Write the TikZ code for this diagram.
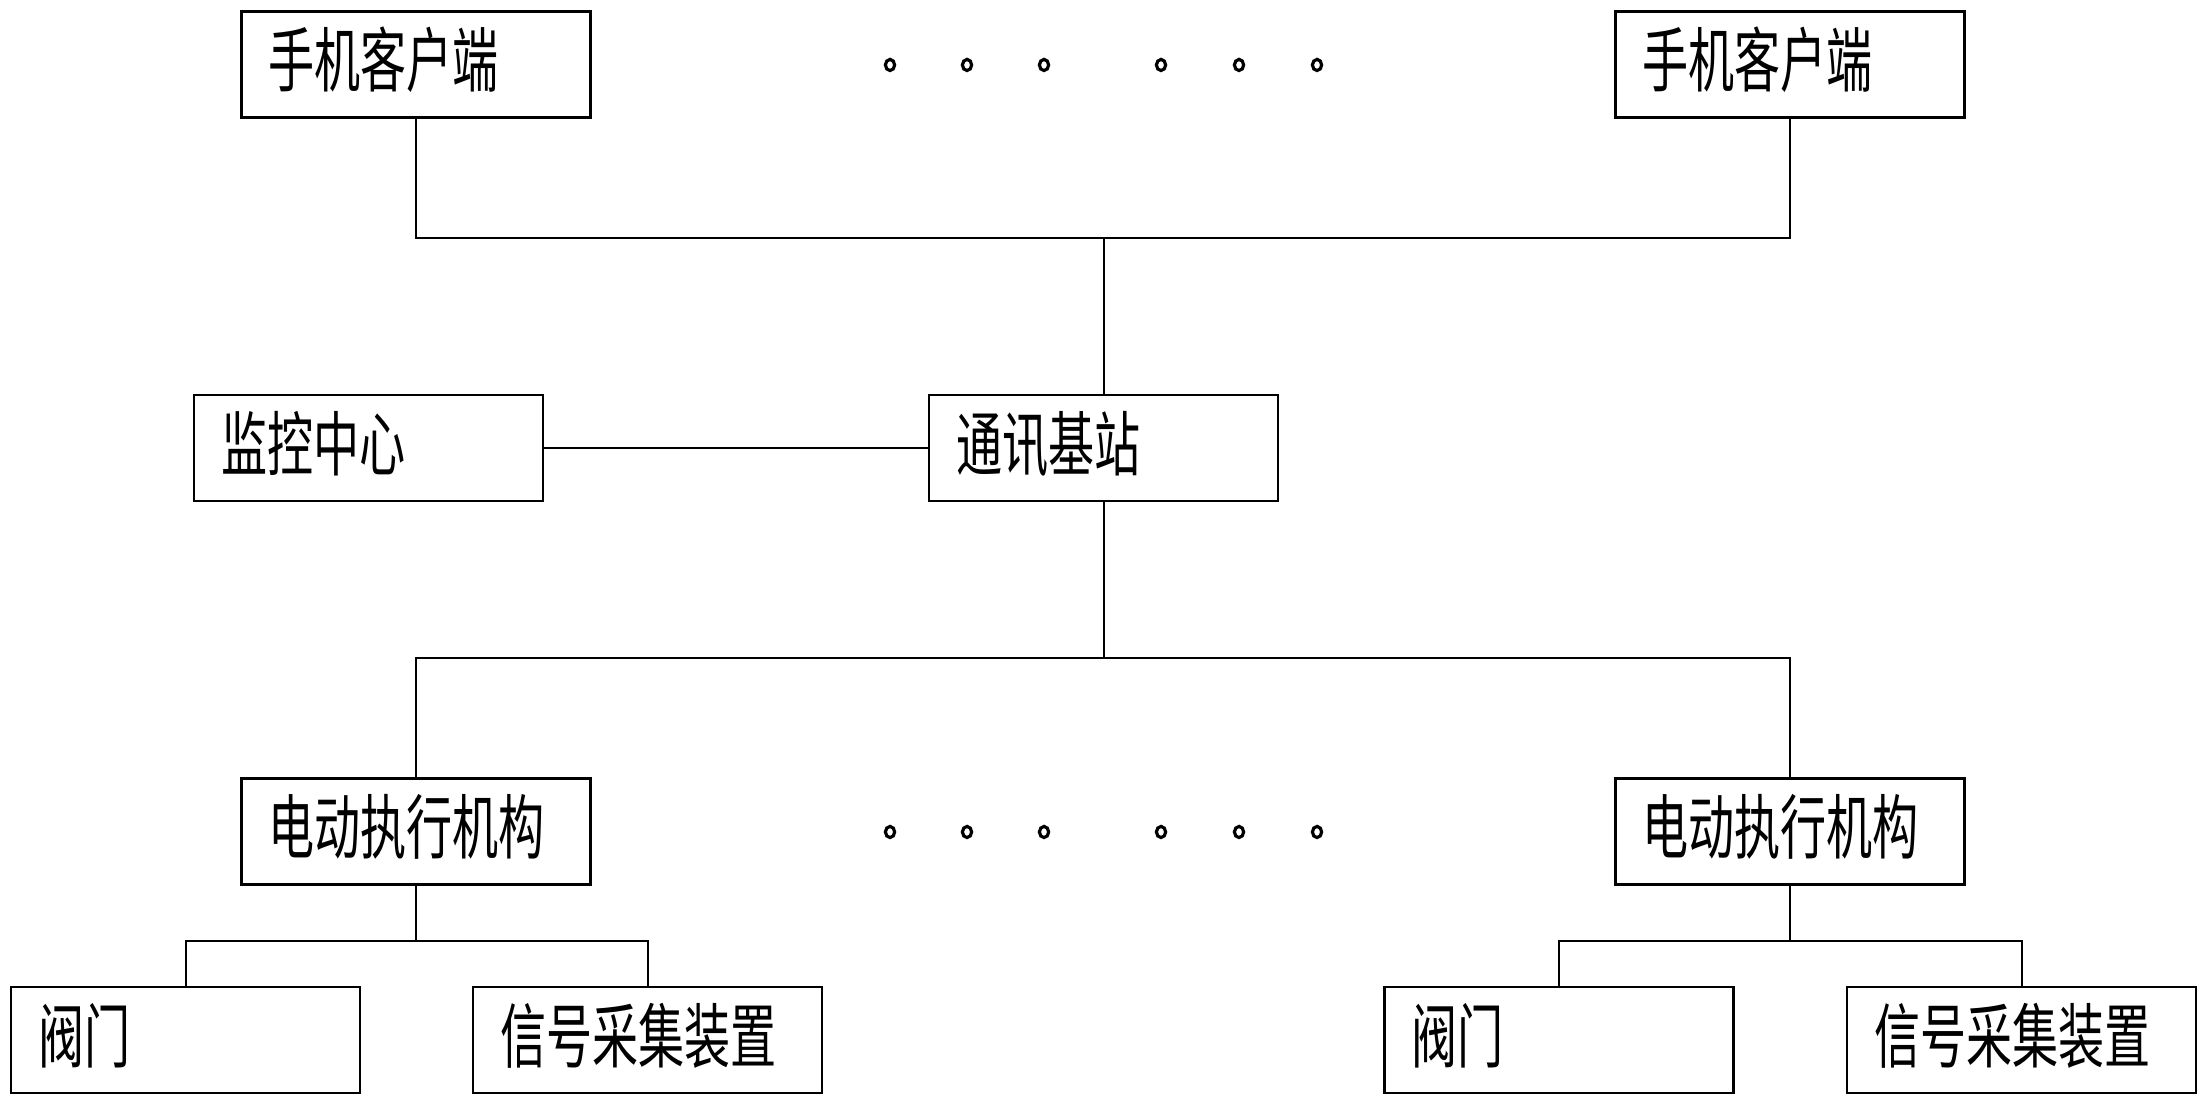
\documentclass[tikz,border=0pt]{standalone}
\usepackage{fontspec}
\usepackage{graphicx}
\newfontfamily\cjk{Noto Sans CJK SC}
\newcommand\lbl[1]{\scalebox{0.655}[1]{#1}}
\begin{document}
\begin{tikzpicture}[x=0.01cm,y=-0.01cm,
  box/.style={draw,line width=0.65pt,minimum width=3.49cm,minimum height=1.06cm,
    text width=2.95cm,align=left,inner sep=0pt,
    font=\cjk\fontsize{20}{24}\selectfont,text height=14pt,text depth=1.4pt},
  conn/.style={line width=0.55pt},
  thick conn/.style={line width=0.8pt},
  dotring/.style={line width=0.9pt}]
\useasboundingbox (0,0) rectangle (2211,1107);
\fill[white] (0,0) rectangle (2211,1107);
% boxes
\node[box] (a1) at (416,64.5) {\lbl{手机客户端}};
\node[box] (a2) at (1790,64.5) {\lbl{手机客户端}};
\node[box] (m) at (368.6,448) {\lbl{监控中心}};
\node[box] (t) at (1103.7,448) {\lbl{通讯基站}};
\node[box] (c1) at (416,831.4) {\lbl{电动执行机构}};
\node[box] (c2) at (1790,831.4) {\lbl{电动执行机构}};
\node[box] (v1) at (185.7,1040) {\lbl{阀门}};
\node[box] (s1) at (647.7,1040) {\lbl{信号采集装置}};
\node[box] (v2) at (1559,1040) {\lbl{阀门}};
\node[box] (s2) at (2021.7,1040) {\lbl{信号采集装置}};
% bus coordinates
\coordinate (topbus) at (1103.7,238);
\coordinate (botbus) at (1103.7,658);
\coordinate (c1bus) at (416,940.6);
\coordinate (c2bus) at (1790,940.6);
% connectors
\draw[conn] (a1.south) |- (topbus) -| (a2.south);
\draw[conn] (t.north) -- (topbus);
\draw[thick conn] (m.east) -- (t.west);
\draw[conn] (t.south) -- (botbus);
\draw[conn] (c1.north) |- (botbus) -| (c2.north);
\draw[conn] (c1.south) -- (c1bus);
\draw[conn] (v1.north) |- (c1bus) -| (s1.north);
\draw[conn] (c2.south) -- (c2bus);
\draw[conn] (v2.north) |- (c2bus) -| (s2.north);
% ellipsis dots
\foreach \dx in {890,967,1044,1161,1239,1317}{
  \draw[dotring] (\dx,65) ellipse[x radius=4.6,y radius=5.6];
  \draw[dotring] (\dx,832) ellipse[x radius=4.6,y radius=5.6];
}
\end{tikzpicture}
\end{document}
